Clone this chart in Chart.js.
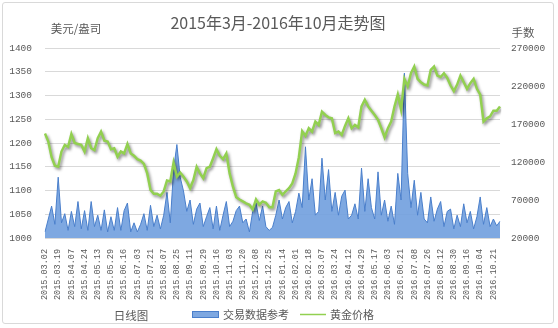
<!DOCTYPE html>
<html>
<head>
<meta charset="utf-8">
<script src="https://cdn.jsdelivr.net/npm/chart.js@4.4.1/dist/chart.umd.min.js"></script>
<style>
  html, body { margin: 0; padding: 0; background: #fff; }
  #wrap { position: relative; width: 558px; height: 328px; }
  #frame { position: absolute; left: 2px; top: 2px; width: 550px; height: 320px; border: 1px solid #d9d9d9; border-radius: 3px; }
  canvas { position: absolute; left: 0; top: 0; }
</style>
</head>
<body>
<div id="wrap">
  <div id="frame"></div>
  <canvas id="gold-chart" width="558" height="328"></canvas>
</div>
<script>
const goldCanvas = document.getElementById("gold-chart");

// tick labels of the date axis (one every 4 points)
const dates = [
  "2015.03.02", "2015.03.19", "2015.04.07", "2015.04.24", "2015.05.13",
  "2015.05.29", "2015.06.16", "2015.07.03", "2015.07.21", "2015.08.07",
  "2015.08.25", "2015.09.11", "2015.09.29", "2015.10.16", "2015.11.03",
  "2015.11.20", "2015.12.08", "2015.12.25", "2016.01.14", "2016.02.01",
  "2016.02.18", "2016.03.07", "2016.03.24", "2016.04.12", "2016.04.29",
  "2016.05.17", "2016.06.03", "2016.06.21", "2016.07.08", "2016.07.26",
  "2016.08.12", "2016.08.30", "2016.09.16", "2016.10.04", "2016.10.21",
];

// 黄金价格 (美元/盎司)
const goldPrice = [
  1220, 1203, 1170, 1152, 1150, 1182, 1196, 1192, 1219, 1200,
  1198, 1196, 1182, 1210, 1189, 1185, 1210, 1224, 1205, 1203,
  1187, 1189, 1171, 1182, 1178, 1198, 1178, 1173, 1166, 1163,
  1156, 1136, 1101, 1093, 1093, 1089, 1098, 1121, 1119, 1159,
  1129, 1138, 1129, 1119, 1105, 1122, 1150, 1136, 1126, 1147,
  1150, 1168, 1187, 1173, 1166, 1178, 1136, 1108, 1086, 1081,
  1077, 1073, 1070, 1060, 1081, 1070, 1077, 1074, 1065, 1065,
  1098, 1101, 1091, 1098, 1105, 1115, 1136, 1170, 1225, 1215,
  1231, 1224, 1245, 1238, 1266, 1259, 1254, 1252, 1221, 1224,
  1217, 1236, 1252, 1231, 1238, 1233, 1277, 1291, 1277, 1268,
  1259, 1249, 1231, 1212, 1231, 1245, 1277, 1302, 1270, 1335,
  1319, 1347, 1361, 1335, 1328, 1323, 1321, 1354, 1361, 1342,
  1339, 1347, 1337, 1321, 1309, 1323, 1342, 1328, 1314, 1326,
  1335, 1314, 1302, 1245, 1252, 1256, 1268, 1268, 1277,
];

// 交易数据参考 (手数)
const volume = [
  28000, 45000, 62000, 38000, 100000, 40000, 52000, 30000, 55000, 35000,
  68000, 32000, 56000, 30000, 68000, 35000, 50000, 30000, 57000, 28000,
  48000, 30000, 60000, 30000, 56000, 66000, 28000, 40000, 28000, 38000,
  52000, 30000, 63000, 35000, 50000, 32000, 50000, 80000, 40000, 110000,
  143000, 100000, 82000, 55000, 70000, 38000, 58000, 66000, 35000, 48000,
  60000, 32000, 62000, 30000, 50000, 68000, 35000, 42000, 56000, 62000,
  40000, 45000, 28000, 55000, 66000, 43000, 62000, 35000, 30000, 34000,
  50000, 70000, 45000, 60000, 68000, 40000, 55000, 79000, 60000, 140000,
  70000, 98000, 50000, 55000, 125000, 70000, 110000, 55000, 80000, 50000,
  75000, 83000, 45000, 50000, 65000, 45000, 112000, 55000, 98000, 60000,
  45000, 107000, 50000, 70000, 42000, 62000, 38000, 105000, 70000, 237000,
  105000, 60000, 96000, 50000, 80000, 45000, 40000, 74000, 42000, 58000,
  68000, 35000, 55000, 58000, 32000, 50000, 35000, 65000, 40000, 55000,
  32000, 48000, 74000, 38000, 60000, 35000, 45000, 36000, 42000,
];

const labels = dates.flatMap((d) => [d, "", "", ""]).slice(0, goldPrice.length);

const textColor = "#595959";
const cjkFont = '"Noto Sans CJK SC"';
const priceColor = "#92d050";
const volumeFill = "rgba(112, 158, 222, 0.9)";
const volumeLine = "#4a7fcb";

// 标题、坐标轴单位和图例
const chartText = {
  id: "chartText",
  afterDraw(chart) {
    const ctx = chart.ctx;
    const sets = chart.data.datasets;
    ctx.save();
    ctx.fillStyle = textColor;
    ctx.textAlign = "center";
    ctx.textBaseline = "middle";
    ctx.font = "16px " + cjkFont;
    ctx.fillText("2015年3月-2016年10月走势图", 278, 23);
    ctx.font = "11.5px " + cjkFont;
    ctx.fillText("美元/盎司", 76, 29);
    ctx.fillText("手数", 523, 33);
    ctx.fillText("日线图", 131, 316);

    // 图例
    ctx.font = "11px " + cjkFont;
    ctx.textAlign = "left";
    ctx.fillStyle = sets[1].backgroundColor;
    ctx.fillRect(192, 311, 26, 6);
    ctx.strokeStyle = sets[1].borderColor;
    ctx.lineWidth = 1;
    ctx.strokeRect(192.5, 311.5, 26, 6);
    ctx.fillStyle = textColor;
    ctx.fillText(sets[1].label, 223, 314.5);
    ctx.strokeStyle = sets[0].borderColor;
    ctx.lineWidth = 1.5;
    ctx.beginPath();
    ctx.moveTo(300, 314.5);
    ctx.lineTo(326, 314.5);
    ctx.stroke();
    ctx.fillText(sets[0].label, 330, 314.5);
    ctx.restore();
  },
};

// 金价线的阴影
const lineShadow = {
  id: "lineShadow",
  beforeDatasetDraw(chart, args) {
    if (args.index !== 0) return;
    const ctx = chart.ctx;
    ctx.save();
    ctx.shadowColor = "rgba(0, 0, 0, 0.45)";
    ctx.shadowBlur = 3;
    ctx.shadowOffsetX = 1.5;
    ctx.shadowOffsetY = 2;
  },
  afterDatasetDraw(chart, args) {
    if (args.index === 0) chart.ctx.restore();
  },
};

const tickFont = { family: "Liberation Mono", size: 9.5 };

const goldChart = new Chart(goldCanvas, {
  type: "line",
  data: {
    labels: labels,
    datasets: [
      {
        label: "黄金价格",
        data: goldPrice,
        yAxisID: "y",
        borderColor: priceColor,
        backgroundColor: priceColor,
        borderWidth: 2.5,
        pointRadius: 0,
        tension: 0,
      },
      {
        label: "交易数据参考",
        data: volume,
        yAxisID: "y1",
        borderColor: volumeLine,
        backgroundColor: volumeFill,
        borderWidth: 1,
        pointRadius: 0,
        fill: "start",
        tension: 0,
      },
    ],
  },
  options: {
    responsive: false,
    animation: false,
    layout: { padding: { top: 48, left: 0, right: 0, bottom: 0 } },
    plugins: {
      tooltip: { enabled: false },
      legend: { display: false },
    },
    scales: {
      x: {
        grid: { display: false, drawTicks: false },
        border: { display: false },
        ticks: {
          autoSkip: false,
          maxRotation: 90,
          minRotation: 90,
          padding: 11,
          color: textColor,
          font: { family: "Liberation Mono", size: 8.5 },
        },
        afterFit: function (scale) {
          scale.height = 90;
        },
      },
      y: {
        position: "left",
        min: 1000,
        max: 1400,
        ticks: {
          stepSize: 50,
          padding: 13,
          color: textColor,
          font: tickFont,
          callback: (value) => String(value),
        },
        grid: { color: "#d9d9d9", drawTicks: false },
        border: { display: false },
        afterFit: function (scale) {
          scale.width = 45;
        },
      },
      y1: {
        position: "right",
        min: 20000,
        max: 270000,
        ticks: {
          stepSize: 50000,
          padding: 11,
          color: textColor,
          font: tickFont,
          callback: (value) => String(value),
        },
        grid: { display: false, drawTicks: false },
        border: { display: false },
        afterFit: function (scale) {
          scale.width = 58;
        },
      },
    },
  },
  plugins: [chartText, lineShadow],
});
</script>
</body>
</html>
